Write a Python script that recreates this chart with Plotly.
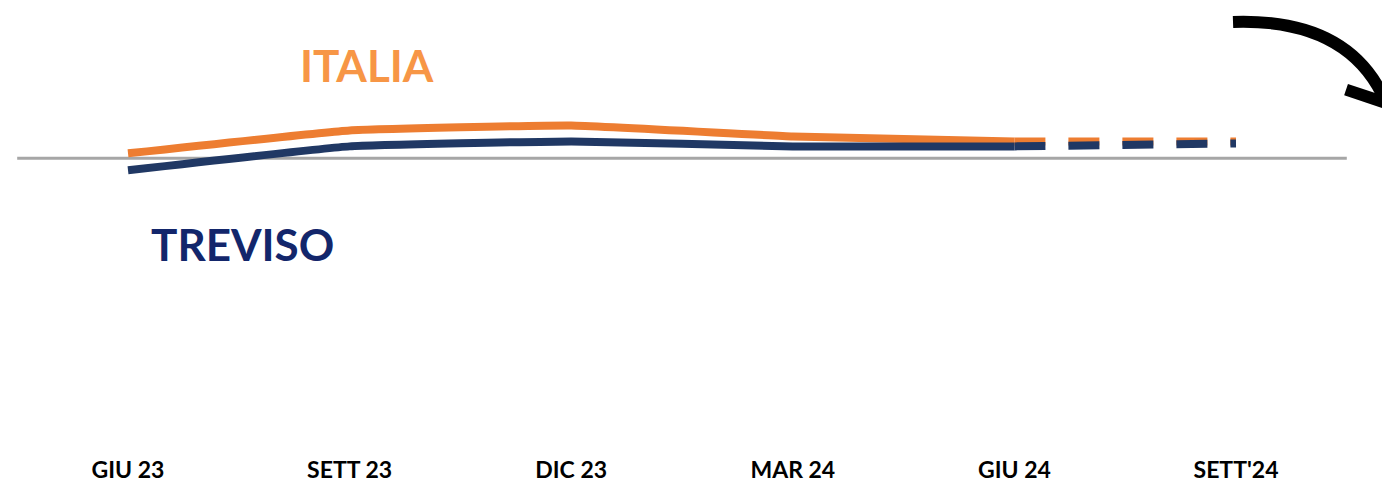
import plotly.graph_objects as go

# months since GIU 23
months = [0, 3, 6, 9, 12, 15]
tick_labels = ["GIU 23", "SETT 23", "DIC 23", "MAR 24", "GIU 24", "SETT'24"]

# values relative to the baseline
italia = [0.5, 2.8, 3.3, 2.2, 1.7, 1.7]
treviso = [-1.2, 1.2, 1.7, 1.2, 1.2, 1.5]

ORANGE = "#ED7D31"
NAVY = "#203864"
OFF = 8                      # page body margin
W, H = 1390 - OFF, 483 - OFF
MB = 27
PLOT_H = H - MB


def px(x, y):
    """window pixel -> paper coords"""
    return (x - OFF) / W, 1 - (y - OFF) / PLOT_H


fig = go.Figure()

# dashed projection (last two points)
fig.add_trace(go.Scatter(x=months[4:], y=italia[4:], mode="lines",
                         line=dict(color=ORANGE, width=8, dash="31px,23px"),
                         hoverinfo="skip"))
fig.add_trace(go.Scatter(x=months[4:], y=treviso[4:], mode="lines",
                         line=dict(color=NAVY, width=8, dash="31px,23px"),
                         hoverinfo="skip"))
# solid history
fig.add_trace(go.Scatter(x=months[:5], y=italia[:5], mode="lines",
                         line=dict(color=ORANGE, width=8, shape="spline", smoothing=0.3),
                         name="ITALIA"))
fig.add_trace(go.Scatter(x=months[:5], y=treviso[:5], mode="lines",
                         line=dict(color=NAVY, width=8, shape="spline", smoothing=0.3),
                         name="TREVISO"))

# baseline
fig.add_shape(type="line", x0=-1.5, x1=16.5, y0=0, y1=0, xref="x", yref="y",
              line=dict(color="#A6A6A6", width=3), layer="below")


# hand-drawn arrow
def p(x, y):
    a, b = px(x, y)
    return f"{a:.4f},{b:.4f}"


fig.add_shape(type="path", xref="paper", yref="paper",
              path=f"M {p(1233, 22)} Q {p(1350, 18)} {p(1386, 103)}",
              line=dict(color="black", width=12))
fig.add_shape(type="path", xref="paper", yref="paper",
              path=f"M {p(1346, 90)} L {p(1388, 104)}",
              line=dict(color="black", width=12))

# series labels
for text, color, (x, y) in [("ITALIA", "#F79646", (367, 65)), ("TREVISO", "#13266B", (242, 245))]:
    ax, ay = px(x, y)
    fig.add_annotation(text=f"<b>{text}</b>", x=ax, y=ay, xref="paper", yref="paper",
                       showarrow=False, xanchor="center", yanchor="middle",
                       font=dict(family="Lato", size=44, color=color))

px_per_month = (1236 - 128) / 15
x0 = -(128 - OFF) / px_per_month
x1 = x0 + W / px_per_month
y_top = (159 - OFF) / 10
y_bot = y_top - PLOT_H / 10

fig.update_layout(
    width=W, height=H,
    margin=dict(l=0, r=0, t=0, b=MB),
    paper_bgcolor="white", plot_bgcolor="white",
    showlegend=False,
    xaxis=dict(range=[x0, x1], tickvals=months,
               ticktext=[f"<b>{t}</b>" for t in tick_labels],
               showgrid=False, zeroline=False, showline=False, ticks="",
               tickfont=dict(family="Lato", size=23, color="black")),
    yaxis=dict(range=[y_bot, y_top], visible=False, showgrid=False, zeroline=False),
)

fig.write_html("out.html")
